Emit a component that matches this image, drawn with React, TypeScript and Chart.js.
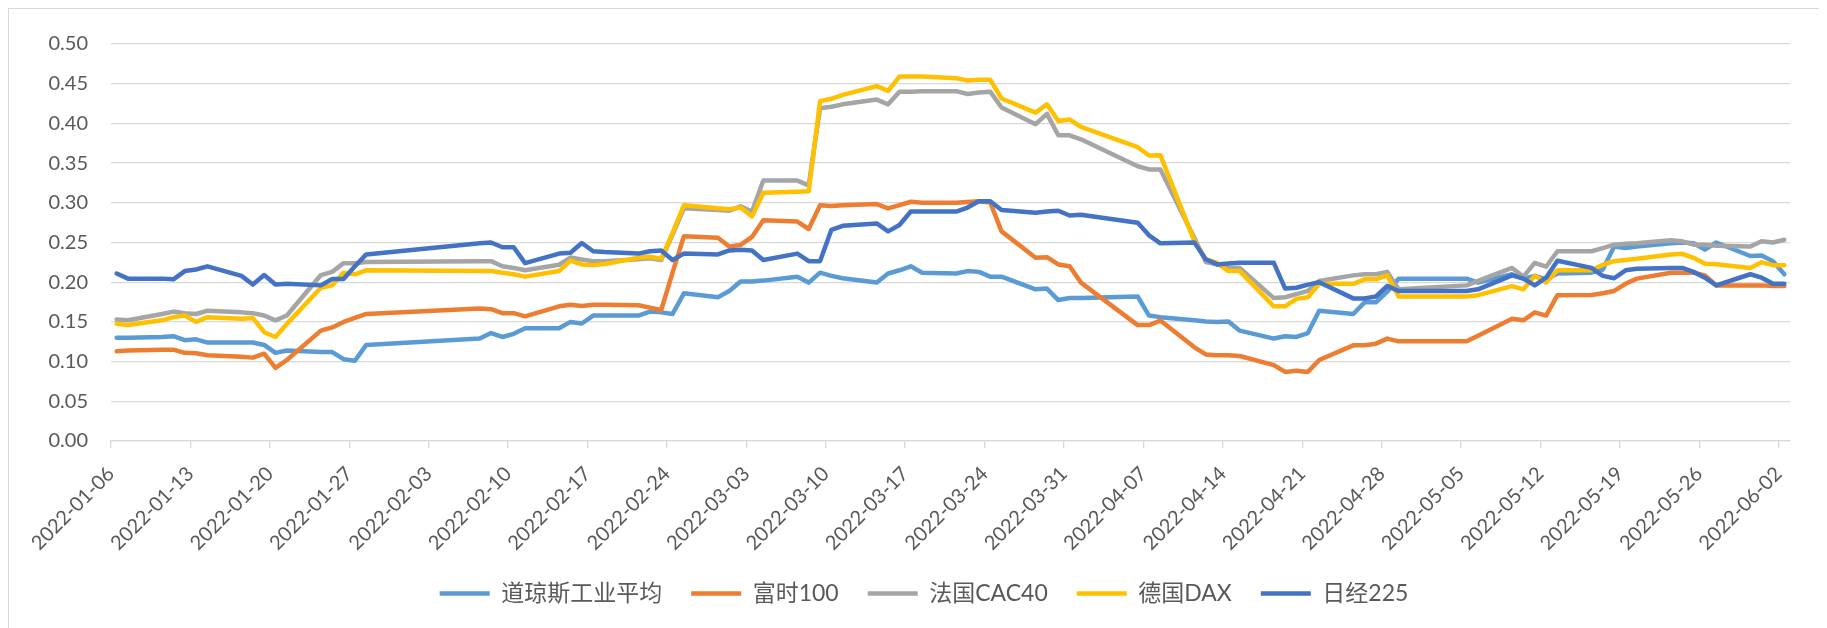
import React, { useEffect, useRef } from "react";
import { Chart, registerables } from "chart.js";

Chart.register(...registerables);

// ---- data ----
const tradeDates = [
  "2022-01-06","2022-01-07","2022-01-10","2022-01-11","2022-01-12","2022-01-13","2022-01-14",
  "2022-01-17","2022-01-18","2022-01-19","2022-01-20","2022-01-21",
  "2022-01-24","2022-01-25","2022-01-26","2022-01-27","2022-01-28",
  "2022-02-07","2022-02-08","2022-02-09","2022-02-10","2022-02-11",
  "2022-02-14","2022-02-15","2022-02-16","2022-02-17","2022-02-18",
  "2022-02-21","2022-02-22","2022-02-23","2022-02-24","2022-02-25",
  "2022-02-28","2022-03-01","2022-03-02","2022-03-03","2022-03-04",
  "2022-03-07","2022-03-08","2022-03-09","2022-03-10","2022-03-11",
  "2022-03-14","2022-03-15","2022-03-16","2022-03-17","2022-03-18",
  "2022-03-21","2022-03-22","2022-03-23","2022-03-24","2022-03-25",
  "2022-03-28","2022-03-29","2022-03-30","2022-03-31","2022-04-01",
  "2022-04-06","2022-04-07","2022-04-08",
  "2022-04-11","2022-04-12","2022-04-13","2022-04-14","2022-04-15",
  "2022-04-18","2022-04-19","2022-04-20","2022-04-21","2022-04-22",
  "2022-04-25","2022-04-26","2022-04-27","2022-04-28","2022-04-29",
  "2022-05-05","2022-05-06",
  "2022-05-09","2022-05-10","2022-05-11","2022-05-12","2022-05-13",
  "2022-05-16","2022-05-17","2022-05-18","2022-05-19","2022-05-20",
  "2022-05-23","2022-05-24","2022-05-25","2022-05-26","2022-05-27",
  "2022-05-30","2022-05-31","2022-06-01","2022-06-02",
];

const dowJones = [
  0.130,0.130,0.131,0.132,0.127,0.128,0.124,
  0.124,0.124,0.121,0.111,0.114,
  0.112,0.112,0.103,0.101,0.121,
  0.129,0.136,0.131,0.135,0.142,
  0.142,0.150,0.148,0.158,0.158,
  0.158,0.163,0.162,0.160,0.186,
  0.181,0.189,0.201,0.201,0.202,
  0.207,0.1995,0.212,0.208,0.205,
  0.1995,0.211,0.215,0.220,0.212,
  0.211,0.214,0.213,0.207,0.207,
  0.191,0.192,0.1775,0.180,0.180,
  0.182,0.158,0.156,
  0.152,0.1505,0.150,0.1505,0.139,
  0.129,0.132,0.131,0.136,0.164,
  0.160,0.1746,0.1746,0.188,0.2045,
  0.2045,0.1995,
  0.210,0.2045,0.208,0.2036,0.211,
  0.212,0.216,0.245,0.243,0.245,
  0.249,0.250,0.249,0.241,0.250,
  0.233,0.2336,0.2265,0.210,
];

const ftse100 = [
  0.113,0.114,0.115,0.115,0.111,0.1105,0.108,
  0.106,0.105,0.110,0.092,0.102,
  0.139,0.143,0.150,0.155,0.160,
  0.167,0.166,0.161,0.161,0.157,
  0.1696,0.1717,0.170,0.1717,0.1717,
  0.171,0.168,0.165,0.212,0.258,
  0.256,0.245,0.247,0.257,0.278,
  0.2764,0.267,0.297,0.296,0.297,
  0.2984,0.293,0.297,0.3013,0.300,
  0.300,0.301,0.302,0.3005,0.264,
  0.2307,0.2315,0.2224,0.220,0.1995,
  0.146,0.146,0.1517,
  0.118,0.109,0.108,0.108,0.107,
  0.0956,0.087,0.0885,0.087,0.102,
  0.1205,0.1205,0.1226,0.129,0.1255,
  0.1255,0.1326,
  0.154,0.152,0.162,0.158,0.1837,
  0.184,0.186,0.189,0.198,0.2045,
  0.212,0.212,0.212,0.2086,0.196,
  0.196,0.196,0.1953,0.1953,
];

const cac40 = [
  0.153,0.152,0.160,0.163,0.161,0.160,0.164,
  0.162,0.161,0.158,0.152,0.158,
  0.209,0.213,0.224,0.224,0.2253,
  0.2265,0.2265,0.220,0.218,0.215,
  0.222,0.231,0.2286,0.2265,0.2265,
  0.229,0.230,0.228,0.260,0.293,
  0.291,0.290,0.2955,0.289,0.328,
  0.328,0.322,0.419,0.421,0.424,
  0.430,0.424,0.440,0.440,0.4405,
  0.4406,0.437,0.439,0.440,0.420,
  0.399,0.412,0.385,0.385,0.380,
  0.346,0.342,0.342,
  0.2556,0.2253,0.2224,0.218,0.218,
  0.180,0.181,0.185,0.189,0.2016,
  0.2086,0.210,0.210,0.213,0.191,
  0.196,0.2016,
  0.218,0.207,0.2244,0.2195,0.239,
  0.239,0.243,0.2473,0.2485,0.249,
  0.2527,0.2515,0.2473,0.2473,0.246,
  0.245,0.2515,0.250,0.2535,
];

const dax = [
  0.1476,0.146,0.152,0.156,0.158,0.150,0.156,
  0.154,0.155,0.137,0.131,0.1475,
  0.193,0.196,0.212,0.210,0.215,
  0.214,0.214,0.212,0.210,0.207,
  0.214,0.2273,0.2224,0.2215,0.223,
  0.2307,0.232,0.2294,0.262,0.297,
  0.293,0.292,0.294,0.2826,0.3126,
  0.314,0.3145,0.428,0.431,0.436,
  0.447,0.441,0.459,0.459,0.459,
  0.457,0.454,0.455,0.455,0.4314,
  0.4135,0.424,0.403,0.405,0.3957,
  0.370,0.3595,0.360,
  0.2515,0.229,0.2244,0.214,0.214,
  0.1696,0.1696,0.179,0.181,0.198,
  0.198,0.2036,0.2036,0.2086,0.182,
  0.182,0.1837,
  0.195,0.191,0.208,0.1995,0.215,
  0.215,0.222,0.2265,0.228,0.2294,
  0.2348,0.2357,0.2307,0.2232,0.2225,
  0.218,0.225,0.2215,0.2215,
];

const nikkei225 = [
  0.211,0.2045,0.2045,0.2036,0.214,0.216,0.220,
  0.208,0.197,0.209,0.197,0.198,
  0.196,0.204,0.204,0.220,0.235,
  0.249,0.250,0.244,0.244,0.224,
  0.236,0.237,0.2494,0.239,0.238,
  0.236,0.239,0.240,0.228,0.236,
  0.235,0.240,0.241,0.240,0.228,
  0.236,0.2265,0.2265,0.266,0.271,
  0.274,0.264,0.272,0.289,0.289,
  0.289,0.294,0.302,0.302,0.291,
  0.2876,0.289,0.290,0.284,0.285,
  0.275,0.259,0.249,
  0.250,0.229,0.2224,0.2236,0.2244,
  0.2244,0.192,0.193,0.197,0.200,
  0.1796,0.1796,0.182,0.1953,0.189,
  0.189,0.191,
  0.2086,0.2045,0.196,0.2057,0.227,
  0.218,0.208,0.205,0.215,0.217,
  0.218,0.218,0.213,0.2057,0.196,
  0.210,0.2057,0.198,0.198,
];

const seriesNames = ["道琼斯工业平均", "富时100", "法国CAC40", "德国DAX", "日经225"];
const seriesValues = [dowJones, ftse100, cac40, dax, nikkei225];
const seriesColors = ["#5B9BD5", "#ED7D31", "#A5A5A5", "#FFC000", "#4472C4"];

const tickLabels = [
  "2022-01-06","2022-01-13","2022-01-20","2022-01-27","2022-02-03","2022-02-10",
  "2022-02-17","2022-02-24","2022-03-03","2022-03-10","2022-03-17","2022-03-24",
  "2022-03-31","2022-04-07","2022-04-14","2022-04-21","2022-04-28","2022-05-05",
  "2022-05-12","2022-05-19","2022-05-26","2022-06-02",
];

const yMin = 0;
const yMax = 0.5;
const yStep = 0.05;

// ---- helpers ----
const START = Date.UTC(2022, 0, 6);
const dayOf = (s: string) => {
  const [y, m, d] = s.split("-").map(Number);
  return Math.round((Date.UTC(y, m - 1, d) - START) / 86400000);
};
const tickDays = tickLabels.map(dayOf);
const labelByDay: Record<number, string> = {};
tickLabels.forEach((l, i) => (labelByDay[tickDays[i]] = l));
const xMax = tickDays[tickDays.length - 1] + 1;

const FONT = "Lato, 'Noto Sans CJK SC', sans-serif";
const TEXT = "#595959";
const GRID = "#d9d9d9";

const legendShift = {
  id: "legendShift",
  afterLayout(chart: any) {
    const l = chart.legend;
    if (l) {
      l.left += 8;
      l.right += 8;
    }
  },
};

export default function App() {
  const ref = useRef<HTMLCanvasElement | null>(null);

  useEffect(() => {
    document.documentElement.style.overflow = "hidden";
    document.body.style.overflow = "hidden";
    const canvas = ref.current;
    if (!canvas) return;
    const chart = new Chart(canvas, {
      type: "line",
      data: {
        datasets: seriesNames.map((name, i) => ({
          label: name,
          data: tradeDates.map((d, j) => ({ x: dayOf(d) + 0.5, y: seriesValues[i][j] })),
          borderColor: seriesColors[i],
          backgroundColor: seriesColors[i],
          borderWidth: 4.5,
          borderCapStyle: "round" as const,
          borderJoinStyle: "round" as const,
          pointRadius: 0,
          pointHoverRadius: 0,
          tension: 0,
          order: seriesNames.length - 1 - i,
        })),
      },
      plugins: [legendShift],
      options: {
        animation: false,
        responsive: false,
        devicePixelRatio: 1,
        events: [],
        layout: { padding: { left: 33, right: 37, top: 30, bottom: 13 } },
        plugins: {
          tooltip: { enabled: false },
          legend: {
            position: "bottom",
            labels: {
              usePointStyle: true,
              pointStyle: "line",
              pointStyleWidth: 50,
              padding: 29,
              color: TEXT,
              font: { family: FONT, size: 23 },
              sort: (a: any, b: any) => a.datasetIndex - b.datasetIndex,
            },
          },
        },
        scales: {
          x: {
            type: "linear",
            min: 0,
            max: xMax,
            afterBuildTicks: (s: any) => {
              s.ticks = tickDays.map((v) => ({ value: v }));
            },
            afterFit: (s: any) => {
              s.height = 112;
            },
            ticks: {
              autoSkip: false,
              minRotation: 45,
              maxRotation: 45,
              padding: 14,
              color: TEXT,
              font: { family: FONT, size: 20 },
              callback: (v: any) => labelByDay[v] ?? "",
            },
            grid: {
              drawOnChartArea: false,
              drawTicks: true,
              tickLength: 7,
              color: GRID,
              lineWidth: 1.3,
            },
            border: { color: GRID, width: 1.3 },
          },
          y: {
            min: yMin,
            max: yMax,
            afterFit: (s: any) => {
              s.width = 69;
            },
            ticks: {
              stepSize: yStep,
              padding: 23,
              color: TEXT,
              font: { family: FONT, size: 20 },
              callback: (v: any) => Number(v).toFixed(2),
            },
            grid: { color: GRID, lineWidth: 1.3, drawTicks: false },
            border: { display: false },
          },
        },
      },
    });
    return () => chart.destroy();
  }, []);

  return (
    <div
      style={{
        position: "relative",
        width: 1819,
        height: 620,
        borderTop: "1px solid #d9d9d9",
        borderLeft: "1px solid #d9d9d9",
        boxSizing: "border-box",
        background: "#fff",
      }}
    >
      <canvas
        ref={ref}
        width={1818}
        height={619}
        style={{ position: "absolute", left: 0, top: 0, width: 1818, height: 619 }}
      />
    </div>
  );
}
